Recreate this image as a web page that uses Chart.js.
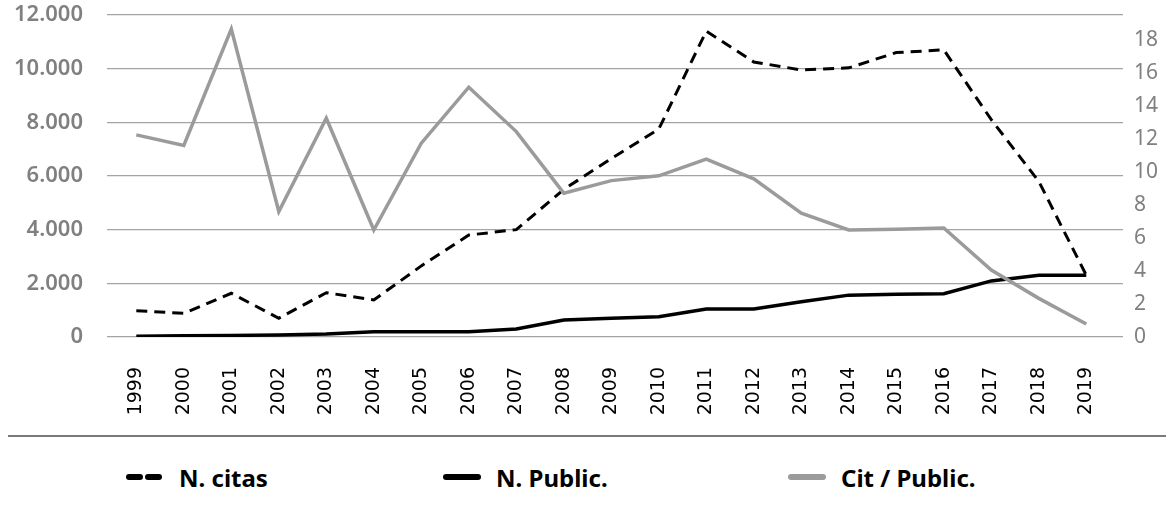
<!DOCTYPE html>
<html>
<head>
<meta charset="utf-8">
<script src="https://cdn.jsdelivr.net/npm/chart.js@4/dist/chart.umd.min.js"></script>
<style>
body { margin: 0; background: #fff; }
#wrap { position: relative; width: 1166px; height: 515px; overflow: hidden; background: #fff; }
#chart { position: absolute; left: 0; top: 0; }
#rule { position: absolute; left: 8px; top: 435px; width: 1158px; height: 2px; background: #7a7a7a; }
.item { position: absolute; top: 462px; height: 30px; display: flex; align-items: center;
        font: bold 24px "Noto Sans", sans-serif; color: #000; white-space: nowrap; }
.item svg { margin-right: 15px; }
</style>
</head>
<body>
<div id="wrap">
  <canvas id="chart" width="1166" height="436"></canvas>
  <div id="rule"></div>
  <div id="legend"></div>
</div>
<script>
// Years on the x axis
const years = ['1999','2000','2001','2002','2003','2004','2005','2006','2007','2008','2009',
               '2010','2011','2012','2013','2014','2015','2016','2017','2018','2019'];

// Left axis series
const citas = [980, 880, 1630, 700, 1650, 1380, 2650, 3800, 4000, 5500, 6650,
               7750, 11400, 10250, 9950, 10030, 10600, 10700, 8100, 5800, 2300];
const publicaciones = [30, 45, 60, 75, 110, 195, 198, 200, 298, 634, 697,
                       757, 1045, 1045, 1317, 1560, 1590, 1610, 2090, 2300, 2300];

// Right axis series
const citPorPublic = [12.24, 11.6, 18.65, 7.6, 13.25, 6.48, 11.74, 15.13, 12.44, 8.71, 9.47,
                      9.76, 10.77, 9.58, 7.5, 6.48, 6.52, 6.6, 4.06, 2.34, 0.79];

// Axis ranges
const leftMax = 12000, leftStep = 2000;
const rightMax = 19.5, rightStep = 2;

const grey = '#9b9b9b';
const axisGrey = '#808080';

function pts(values) {
    return values.map((v, i) => ({x: i, y: v}));
}

function miles(v) {
    return String(v).replace(/\B(?=(\d{3})+(?!\d))/g, '.');
}

const chart = new Chart(document.getElementById('chart'), {
    type: 'line',
    data: {
        datasets: [
            {label: 'N. citas', data: pts(citas), yAxisID: 'y', borderColor: '#000',
             borderWidth: 3, borderDash: [11, 7], order: 2},
            {label: 'N. Public.', data: pts(publicaciones), yAxisID: 'y', borderColor: '#000',
             borderWidth: 3.5, order: 1},
            {label: 'Cit / Public.', data: pts(citPorPublic), yAxisID: 'y1', borderColor: grey,
             borderWidth: 3.5, order: 0}
        ]
    },
    options: {
        responsive: false,
        animation: false,
        layout: {padding: {top: 15, left: 0, right: 0, bottom: 0}},
        elements: {point: {radius: 0}, line: {tension: 0, borderJoinStyle: 'miter', fill: false}},
        plugins: {legend: {display: false}, tooltip: {enabled: false}},
        scales: {
            x: {
                type: 'linear',
                min: -0.617, max: 20.773,
                afterBuildTicks: axis => { axis.ticks = years.map((_, i) => ({value: i})); },
                afterFit: s => { s.height = 99; },
                grid: {display: false},
                border: {display: false},
                ticks: {
                    autoSkip: false, minRotation: 90, maxRotation: 90, padding: 22,
                    color: '#000', font: {family: 'DejaVu Sans', size: 19},
                    callback: v => years[v] ?? ''
                }
            },
            y: {
                position: 'left',
                min: 0, max: leftMax,
                afterFit: s => { s.width = 107; },
                // invisible tick marks keep the labels away from the plot
                grid: {color: '#a4a4a4', lineWidth: 1.3, drawTicks: true, tickLength: 24,
                       tickColor: 'rgba(0,0,0,0)'},
                border: {display: false},
                ticks: {
                    stepSize: leftStep, padding: 0, color: axisGrey,
                    font: {family: 'Noto Sans', size: 22, weight: '600'},
                    callback: v => miles(v)
                }
            },
            y1: {
                position: 'right',
                min: 0, max: rightMax,
                afterFit: s => { s.width = 43; },
                grid: {drawOnChartArea: false, color: 'rgba(0,0,0,0)', drawTicks: true,
                       tickLength: 11, tickColor: 'rgba(0,0,0,0)'},
                border: {display: false},
                ticks: {
                    stepSize: rightStep, includeBounds: false, padding: 0, color: axisGrey,
                    font: {family: 'Noto Sans', size: 21}
                }
            }
        }
    }
});

// Legend under the separator line, built from the datasets
const legendLeft = [126, 443, 788];
const legend = document.getElementById('legend');
chart.data.datasets.forEach((ds, i) => {
    const item = document.createElement('div');
    item.className = 'item';
    item.style.left = legendLeft[i] + 'px';
    const dash = ds.borderDash ? 'stroke-dasharray="11 8"' : '';
    item.innerHTML =
        `<svg width="38" height="10"><line x1="3" y1="5" x2="35" y2="5" stroke="${ds.borderColor}" ` +
        `stroke-width="6" stroke-linecap="round" ${dash}/></svg><span>${ds.label}</span>`;
    legend.appendChild(item);
});
</script>
</body>
</html>
